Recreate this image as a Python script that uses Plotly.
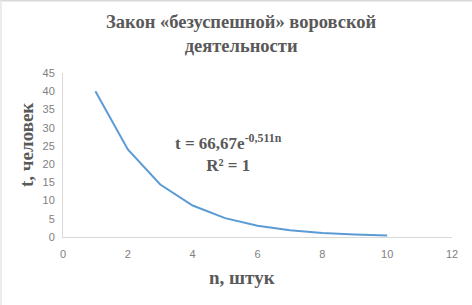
import plotly.graph_objects as go

n_values = [1, 2, 3, 4, 5, 6, 7, 8, 9, 10]
t_values = [40.0, 24.0, 14.4, 8.64, 5.18, 3.11, 1.87, 1.12, 0.67, 0.40]
x_ticks = [0, 2, 4, 6, 8, 10, 12]
y_ticks = [0, 5, 10, 15, 20, 25, 30, 35, 40, 45]

serif = "Liberation Serif, Times New Roman, serif"
sans = "Liberation Sans, Arial, sans-serif"
grey = "#595959"
tick_grey = "#808080"

L, R, T, B = 63, 20, 73, 68
W, H = 472, 305
pw, ph = W - L - R, H - T - B


def py(px):
    """pixel y from top -> paper y"""
    return (H - B - px) / ph


def px_(x):
    return (x - L) / pw


fig = go.Figure()
fig.add_trace(go.Scatter(x=n_values, y=t_values, mode="lines",
                         line=dict(color="#5B9BD5", width=2),
                         showlegend=False))

fig.update_layout(
    width=W, height=H,
    margin=dict(l=L, r=R, t=T, b=B, autoexpand=False),
    paper_bgcolor="white", plot_bgcolor="white",
    xaxis=dict(range=[0, 12], tickvals=x_ticks, showgrid=False, zeroline=False,
               automargin=False, ticks="", ticklen=0, ticklabelstandoff=7,
               showline=True, linecolor="#d9d9d9", linewidth=1,
               tickfont=dict(family=sans, size=11, color=tick_grey)),
    yaxis=dict(range=[0, 45], tickvals=y_ticks, showgrid=False, zeroline=False,
               automargin=False, ticks="", ticklabelstandoff=5,
               showline=True, linecolor="#d9d9d9", linewidth=1,
               tickfont=dict(family=sans, size=11, color=tick_grey)),
    shapes=[
        dict(type="line", xref="paper", yref="paper", x0=px_(0), x1=px_(W),
             y0=py(0.75), y1=py(0.75), line=dict(color="#d9d9d9", width=1.5)),
        dict(type="line", xref="paper", yref="paper", x0=px_(1), x1=px_(1),
             y0=py(H), y1=py(0), line=dict(color="#e6e6e6", width=1.5)),
    ],
    annotations=[
        dict(text="<b>Закон «безуспешной» воровской<br>деятельности</b>",
             x=px_(241), y=py(34), xref="paper", yref="paper", xanchor="center", yanchor="middle",
             showarrow=False, align="center",
             font=dict(family=serif, size=18.5, color=grey)),
        dict(text="<b>n, штук</b>", x=px_(242), y=py(277), xref="paper", yref="paper",
             xanchor="center", yanchor="middle", showarrow=False,
             font=dict(family=serif, size=19, color=grey)),
        dict(text="<b>t, человек</b>", x=px_(26), y=py(145), xref="paper", yref="paper",
             xanchor="center", yanchor="middle", showarrow=False, textangle=-90,
             font=dict(family=serif, size=19, color=grey)),
        dict(text="<b>t = 66,67e<sup>-0,511n</sup><br>R² = 1</b>", x=px_(228), y=py(153),
             xref="paper", yref="paper", xanchor="center", yanchor="middle",
             showarrow=False, align="center",
             font=dict(family=serif, size=17, color=grey)),
    ],
)

fig.write_html("out.html", config={"displayModeBar": False},
               post_script="document.body.style.margin='0';")
